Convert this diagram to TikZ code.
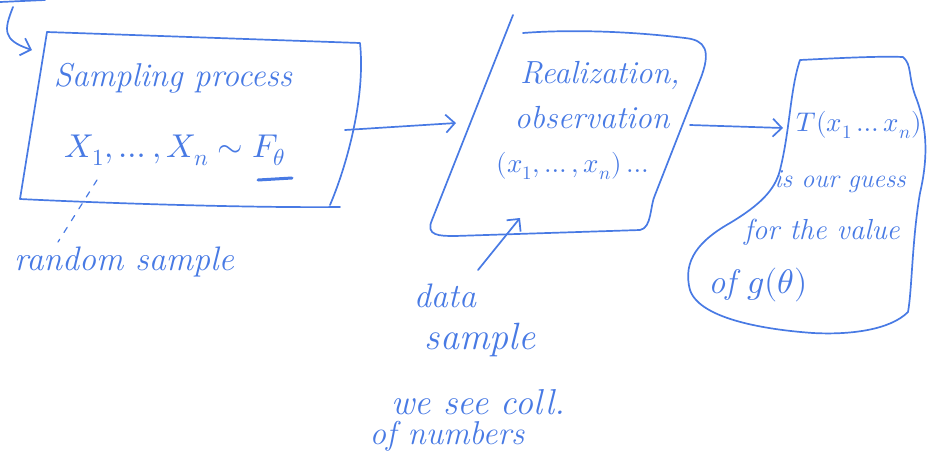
\documentclass[tikz,border=0pt]{standalone}
\usepackage{amsmath}
\usepackage{unicode-math}
\setmainfont{Latin Modern Roman}
\setmathfont{Latin Modern Math}
\usetikzlibrary{arrows.meta}
\definecolor{ink}{RGB}{72,122,228}
\tikzset{
  pen/.style={draw=ink, line width=1.7pt, line cap=round, line join=round},
  hand/.style={text=ink, font=\itshape\fontsize{#1}{#1}\selectfont, inner sep=1pt},
  hand/.default=22,
  arr/.style={pen, -{Straight Barb[length=9pt,width=18pt,line width=1.7pt]}},
}
\begin{document}
\begin{tikzpicture}[x=1pt,y=-1pt]
\useasboundingbox (0,0) rectangle (931,459);
% ---- coordinates
\coordinate (t0) at (0,2);
\coordinate (t1) at (45,0);
\coordinate (h0) at (13,7);
\coordinate (h1) at (32,50);
\coordinate (b1tl) at (47,32);
\coordinate (b1tr) at (360,43);
\coordinate (b1br) at (330,205);
\coordinate (b1bx) at (340,207);
\coordinate (b1bl) at (20,199);
\coordinate (a1s) at (345,130);
\coordinate (a1e) at (456,123);
\coordinate (ds) at (97,180);
\coordinate (de) at (58,242);
\coordinate (a2s) at (478,270);
\coordinate (a2e) at (520,218);
\coordinate (a3s) at (690,125);
\coordinate (a3e) at (783,128);
% ---- left box
\draw[pen] (t0) -- (t1);
\draw[arr] (h0) .. controls (4,30) and (2,40) .. (h1);
\draw[pen] (b1tl) -- (b1tr) .. controls (366,100) and (345,170) .. (b1br);
\draw[pen] (b1bx) .. controls (250,208) and (100,203) .. (b1bl) -- (b1tl);
\node[hand=33] (sp) at (173,78) {Sampling process};
\node[hand=33] (xs) at (175,150) {$X_1,\dots,X_n \sim F_{\theta}$};
\draw[pen, line width=3pt] (258,180) -- (292,178);
\draw[pen, line width=1.2pt, dash pattern=on 6pt off 8pt] (ds) -- (de);
\node[hand=34] (rs) at (124,262) {random sample};
\draw[arr] (a1s) -- (a1e);
% ---- middle box
\draw[pen] (513,15) -- (432,220) .. controls (425,236) and (440,236) .. (455,236)
  -- (640,230) .. controls (652,228) and (650,205) .. (655,195)
  -- (700,80) .. controls (712,50) and (705,40) .. (685,38)
  .. controls (620,30) and (560,30) .. (523,33);
\node[hand=32] (re) at (600,75) {Realization,};
\node[hand=32] (ob) at (592,118) {observation};
\node[hand=27] (xx) at (575,166) {$(x_1,\dots,x_n)\dots$};
\draw[arr] (a2s) -- (a2e);
\node[hand=34] (da) at (445,296) {data};
\node[hand=38] (sa) at (480,340) {sample};
\node[hand=36] (ws) at (478,402) {we see coll.};
\node[hand=33] (on) at (447,436) {of numbers};
\draw[arr] (a3s) -- (a3e);
% ---- right blob
\draw[pen] (800,60) .. controls (840,58) and (880,56) .. (903,57)
  .. controls (912,65) and (908,75) .. (915,95)
  .. controls (925,120) and (930,150) .. (920,193)
  .. controls (912,240) and (912,290) .. (908,312)
  .. controls (890,330) and (850,335) .. (813,333)
  .. controls (770,330) and (700,320) .. (690,290)
  .. controls (682,260) and (700,240) .. (730,223)
  .. controls (760,205) and (775,190) .. (780,170)
  .. controls (790,130) and (790,90) .. (800,60);
\node[hand=27] (tt) at (859,125) {$T(x_1\dots x_n)$};
\node[hand=26] (ig) at (840,182) {is our guess};
\node[hand=29] (fv) at (822,232) {for the value};
\node[hand=34] (og) at (758,285) {of $g(\theta)$};
\end{tikzpicture}
\end{document}
